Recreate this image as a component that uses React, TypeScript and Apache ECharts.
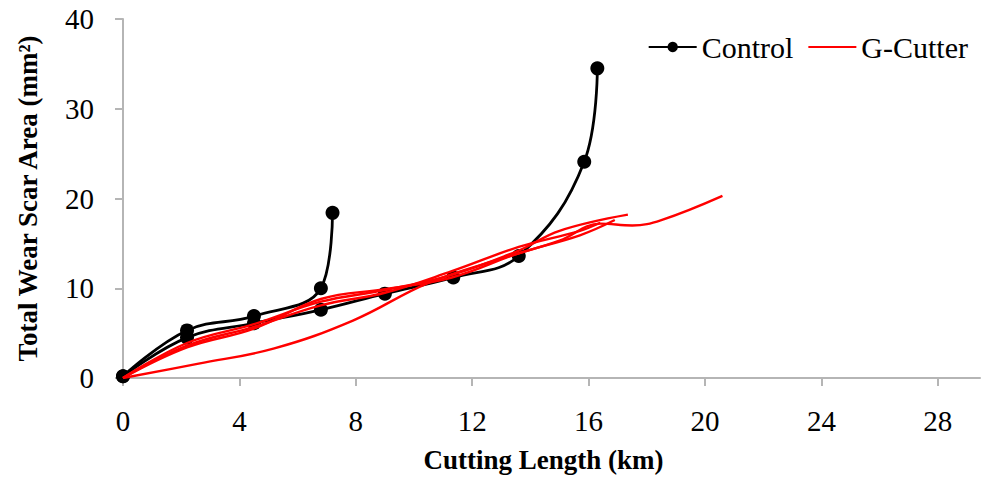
import React, { useEffect, useRef } from "react";
import * as echarts from "echarts";

const FONT = "'Liberation Serif', 'Times New Roman', serif";

const xTicks = [0, 4, 8, 12, 16, 20, 24, 28];
const yTicks = [0, 10, 20, 30, 40];

// Control trials (km, mm²)
const controlA: number[][] = [
  [0, 0.2], [2.2, 5.3], [4.5, 6.9], [6.8, 10.0], [7.2, 18.4],
];
const controlB: number[][] = [
  [0, 0.2], [2.2, 4.5], [4.5, 6.1], [6.8, 7.6], [9.0, 9.4],
  [11.35, 11.2], [13.6, 13.6], [15.85, 24.1], [16.3, 34.5],
];

// G-Cutter trials (km, mm²)
const gCutter1: number[][] = [
  [0, 0], [2.6, 1.6], [5.2, 3.3], [7.9, 6.4], [10.5, 10.6], [13, 13.3],
  [15, 15.3], [16.4, 17.2], [17.5, 17.0], [18.5, 17.6], [20.6, 20.3],
];
const gCutter2: number[][] = [
  [0, 0], [2.2, 3.9], [4.5, 6.0], [6.8, 8.5], [9.0, 9.8], [11.3, 11.5],
  [13.6, 14.2], [15.0, 16.4], [17.35, 18.2],
];
const gCutter3: number[][] = [
  [0, 0], [2.2, 3.6], [4.5, 5.7], [6.8, 8.1], [9.0, 9.5], [11.3, 11.9],
  [13.6, 14.6], [15.7, 16.4], [16.4, 17.3],
];
const gCutter4: number[][] = [
  [0, 0], [2.2, 3.4], [4.5, 5.5], [6.8, 8.8], [9.0, 9.9], [11.3, 11.2],
  [13.6, 13.9], [15.7, 15.9], [16.9, 17.6],
];

export default function App() {
  const ref = useRef<HTMLDivElement>(null);
  useEffect(() => {
    if (!ref.current) return;
    const chart = echarts.init(ref.current, null, { renderer: "svg" });
    const axisLine = { show: true, lineStyle: { color: "#b5b5b5", width: 2 } };
    const controlStyle = (data: number[][]) => ({
      type: "line",
      name: "Control",
      data,
      smooth: 0.4,
      symbol: "circle",
      symbolSize: 14,
      showSymbol: true,
      itemStyle: { color: "#000" },
      lineStyle: { color: "#000", width: 2.8 },
      z: 2,
    });
    const redStyle = (data: number[][]) => ({
      type: "line",
      name: "G-Cutter",
      data,
      smooth: 0.4,
      symbol: "none",
      itemStyle: { color: "#ff0000" },
      lineStyle: { color: "#ff0000", width: 2.4 },
      z: 3,
    });
    chart.setOption({
      animation: false,
      grid: { left: 123, right: 13, top: 19, bottom: 100, containLabel: false },
      legend: {
        data: [
          { name: "Control" },
          { name: "G-Cutter", itemStyle: { opacity: 0 } },
        ],
        right: 20,
        top: 27,
        itemWidth: 48,
        itemHeight: 13,
        itemGap: 14,
        textStyle: { fontFamily: FONT, fontSize: 30, color: "#000" },
      },
      xAxis: {
        type: "value",
        min: 0,
        max: 29.45,
        name: "Cutting Length (km)",
        nameLocation: "middle",
        nameGap: 68,
        nameTextStyle: {
          fontFamily: FONT,
          fontSize: 27,
          fontWeight: "bold",
          color: "#000",
          padding: [0, 16, 0, 0],
        },
        axisLine,
        axisTick: {
          show: true,
          length: 8,
          customValues: xTicks,
          lineStyle: { color: "#b5b5b5", width: 2 },
        },
        axisLabel: {
          customValues: xTicks,
          margin: 28,
          fontFamily: FONT,
          fontSize: 29,
          color: "#000",
        },
        splitLine: { show: false },
      },
      yAxis: {
        type: "value",
        min: 0,
        max: 40,
        interval: 10,
        name: "Total Wear Scar Area (mm²)",
        nameLocation: "middle",
        nameGap: 82,
        nameTextStyle: {
          fontFamily: FONT,
          fontSize: 27,
          fontWeight: "bold",
          color: "#000",
        },
        axisLine,
        axisTick: {
          show: true,
          length: 8,
          lineStyle: { color: "#b5b5b5", width: 2 },
        },
        axisLabel: {
          margin: 29,
          fontFamily: FONT,
          fontSize: 29,
          color: "#000",
          customValues: yTicks,
        },
        splitLine: { show: false },
      },
      series: [
        controlStyle(controlA),
        controlStyle(controlB),
        redStyle(gCutter1),
        redStyle(gCutter2),
        redStyle(gCutter3),
        redStyle(gCutter4),
      ],
    });
    return () => chart.dispose();
  }, []);
  return <div ref={ref} style={{ width: 993, height: 478, position: "absolute", left: 0, top: 0 }} />;
}
